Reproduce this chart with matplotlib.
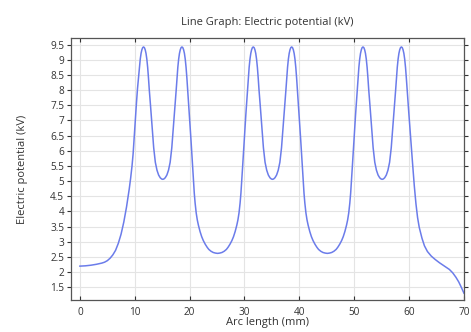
import matplotlib
matplotlib.use('Agg')
import matplotlib.pyplot as plt

# values (arc length in mm, potential in kV)
arc_mm = [
    0.0, 1.0, 2.0, 3.0, 4.0, 4.5, 5.0, 5.5, 6.0, 6.5, 7.0, 7.5, 8.0, 8.5, 9.0, 9.25, 9.5, 9.7,
    10.0, 10.3, 10.5, 10.7, 10.85, 11.0, 11.15, 11.3, 11.45, 11.6,
    11.75, 11.9, 12.05, 12.2, 12.35, 12.5, 12.65, 12.85, 13.15, 13.45, 13.75, 14.05, 14.35,
    14.65, 14.9, 15.1, 15.3, 15.55, 15.85, 16.15, 16.45, 16.75, 17.05, 17.35, 17.55, 17.7,
    17.85, 18.0, 18.15, 18.3, 18.45, 18.6,
    18.75, 18.9, 19.05, 19.2, 19.35, 19.5, 19.65, 19.8, 19.95, 20.1, 20.25, 20.4, 20.55,
    20.7, 20.85, 21.0, 21.2, 21.4, 21.6, 21.9, 22.2, 22.5, 22.85, 23.2, 23.5, 23.9, 24.3,
    24.7, 25.1, 25.5, 25.9, 26.3, 26.7, 27.0, 27.35, 27.7, 28.0, 28.3, 28.6, 28.8, 29.0,
    29.2, 29.35, 29.5, 29.65, 29.8, 29.95, 30.1, 30.25, 30.4, 30.55, 30.7, 30.85, 31.0,
    31.15, 31.3, 31.45, 31.6,
    31.75, 31.9, 32.05, 32.2, 32.35, 32.5, 32.65, 32.85, 33.15, 33.45, 33.75, 34.05, 34.35,
    34.65, 34.9, 35.1, 35.3, 35.55, 35.85, 36.15, 36.45, 36.75, 37.05, 37.35, 37.55, 37.7,
    37.85, 38.0, 38.15, 38.3, 38.45, 38.6,
    38.75, 38.9, 39.05, 39.2, 39.35, 39.5, 39.65, 39.8, 39.95, 40.1, 40.25, 40.4, 40.55,
    40.7, 40.85, 41.0, 41.2, 41.4, 41.6, 41.9, 42.2, 42.5, 42.85, 43.2, 43.5, 43.9, 44.3,
    44.7, 45.1, 45.5, 45.9, 46.3, 46.7, 47.0, 47.35, 47.7, 48.0, 48.3, 48.6, 48.8, 49.0,
    49.2, 49.35, 49.5, 49.65, 49.8, 49.95, 50.1, 50.25, 50.4, 50.55, 50.7, 50.85, 51.0,
    51.15, 51.3, 51.45, 51.6,
    51.75, 51.9, 52.05, 52.2, 52.35, 52.5, 52.65, 52.85, 53.15, 53.45, 53.75, 54.05, 54.35,
    54.65, 54.9, 55.1, 55.3, 55.55, 55.85, 56.15, 56.45, 56.75, 57.05, 57.35, 57.55, 57.7,
    57.85, 58.0, 58.15, 58.3, 58.45, 58.6,
    58.75, 58.9, 59.05, 59.2, 59.35, 59.5, 59.65, 59.8, 59.95, 60.15, 60.4, 60.65, 60.95,
    61.25, 61.55, 61.85, 62.35, 62.8, 63.35, 64.05, 64.75, 65.55, 66.45, 67.35, 67.95,
    68.55, 69.05, 69.45, 70.0,
]
potential_kV = [
    2.20, 2.21, 2.23, 2.26, 2.30, 2.33, 2.38, 2.46, 2.57, 2.72, 2.95, 3.25, 3.65, 4.15, 4.75, 5.10, 5.50, 5.90,
    6.75, 7.55, 8.05, 8.45, 8.78, 9.02, 9.21, 9.33, 9.40, 9.42,
    9.40, 9.33, 9.21, 9.02, 8.75, 8.40, 8.00, 7.54, 6.80, 6.10, 5.62, 5.36, 5.20,
    5.11, 5.07, 5.06, 5.07, 5.11, 5.20, 5.36, 5.62, 6.10, 6.80, 7.54, 8.00, 8.40,
    8.75, 9.02, 9.21, 9.33, 9.40, 9.42,
    9.40, 9.33, 9.21, 9.02, 8.75, 8.40, 8.00, 7.60, 7.20, 6.80, 6.35, 5.90, 5.45,
    5.00, 4.60, 4.28, 3.95, 3.72, 3.55, 3.34, 3.17, 3.04, 2.92, 2.82, 2.75, 2.69, 2.65,
    2.63, 2.62, 2.63, 2.65, 2.69, 2.75, 2.82, 2.92, 3.04, 3.17, 3.34, 3.55, 3.72, 3.95,
    4.28, 4.60, 5.00, 5.45, 5.90, 6.35, 6.80, 7.20, 7.60, 8.00, 8.40, 8.75, 9.02,
    9.21, 9.33, 9.40, 9.42,
    9.40, 9.33, 9.21, 9.02, 8.75, 8.40, 8.00, 7.54, 6.80, 6.10, 5.62, 5.36, 5.20,
    5.11, 5.07, 5.06, 5.07, 5.11, 5.20, 5.36, 5.62, 6.10, 6.80, 7.54, 8.00, 8.40,
    8.75, 9.02, 9.21, 9.33, 9.40, 9.42,
    9.40, 9.33, 9.21, 9.02, 8.75, 8.40, 8.00, 7.60, 7.20, 6.80, 6.35, 5.90, 5.45,
    5.00, 4.60, 4.28, 3.95, 3.72, 3.55, 3.34, 3.17, 3.04, 2.92, 2.82, 2.75, 2.69, 2.65,
    2.63, 2.62, 2.63, 2.65, 2.69, 2.75, 2.82, 2.92, 3.04, 3.17, 3.34, 3.55, 3.72, 3.95,
    4.28, 4.60, 5.00, 5.45, 5.90, 6.35, 6.80, 7.20, 7.60, 8.00, 8.40, 8.75, 9.02,
    9.21, 9.33, 9.40, 9.42,
    9.40, 9.33, 9.21, 9.02, 8.75, 8.40, 8.00, 7.54, 6.80, 6.10, 5.62, 5.36, 5.20,
    5.11, 5.07, 5.06, 5.07, 5.11, 5.20, 5.36, 5.62, 6.10, 6.80, 7.54, 8.00, 8.40,
    8.75, 9.02, 9.21, 9.33, 9.40, 9.42,
    9.40, 9.33, 9.21, 9.02, 8.75, 8.40, 8.00, 7.60, 7.25, 6.75, 6.15, 5.55, 4.85,
    4.26, 3.80, 3.48, 3.12, 2.87, 2.68, 2.53, 2.42, 2.31, 2.20, 2.09, 1.98,
    1.83, 1.68, 1.53, 1.31,
]

x_ticks = [0, 10, 20, 30, 40, 50, 60, 70]
y_ticks = [1.5, 2, 2.5, 3, 3.5, 4, 4.5, 5, 5.5, 6, 6.5, 7, 7.5, 8, 8.5, 9, 9.5]
y_ticklabels = ['1.5', '2', '2.5', '3', '3.5', '4', '4.5', '5', '5.5', '6', '6.5',
                '7', '7.5', '8', '8.5', '9', '9.5']

plt.rcParams['font.family'] = ['Open Sans', 'DejaVu Sans']

fig = plt.figure(figsize=(4.71, 3.32), dpi=100)
ax = fig.add_axes([0.151, 0.096, 0.834, 0.79])

ax.plot(arc_mm, potential_kV, color='#6b7cea', lw=1.1)

ax.set_xlim(-1.6, 70.0)
ax.set_ylim(1.08, 9.72)
ax.set_xticks(x_ticks)
ax.set_yticks(y_ticks)
ax.set_yticklabels(y_ticklabels)
ax.grid(True, color='#e4e4e4', lw=0.8)
ax.set_axisbelow(True)

ax.tick_params(axis='x', direction='in', top=True, length=3, width=0.8,
               labelsize=7.2, colors='#333333', pad=5)
ax.tick_params(axis='y', direction='out', right=True, length=3, width=0.8,
               labelsize=7.2, colors='#333333', pad=2)
for s in ax.spines.values():
    s.set_color('#555555')
    s.set_linewidth(0.9)

ax.set_title('Line Graph: Electric potential (kV)', fontsize=8, color='#333333', pad=9)
ax.set_xlabel('Arc length (mm)', fontsize=8, color='#333333', labelpad=-1)
ax.set_ylabel('Electric potential (kV)', fontsize=8, color='#333333', labelpad=16)

plt.savefig('out.png', dpi=100)
